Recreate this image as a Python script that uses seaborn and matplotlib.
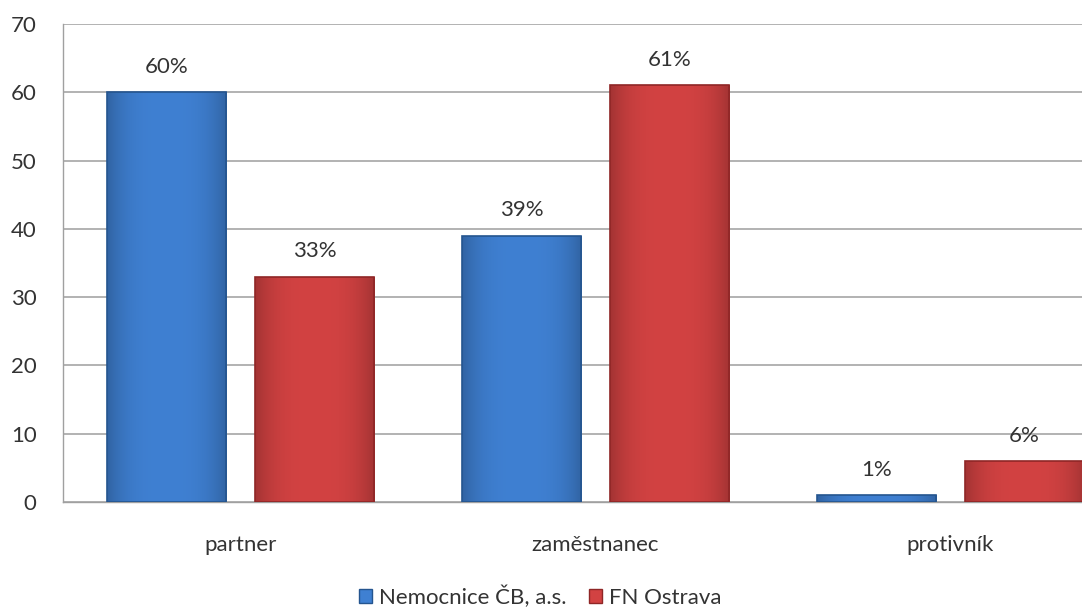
import matplotlib
matplotlib.use("Agg")
import matplotlib.pyplot as plt
import matplotlib.colors as mcolors
import numpy as np
import seaborn as sns
import pandas as pd
from matplotlib.patches import Patch

categories = ["partner", "zaměstnanec", "protivník"]
series_names = ["Nemocnice ČB, a.s.", "FN Ostrava"]
values_cb = [60, 39, 1]
values_ostrava = [33, 61, 6]
y_ticks = [0, 10, 20, 30, 40, 50, 60, 70]

df = pd.DataFrame({
    "kategorie": categories * 2,
    "nemocnice": [series_names[0]] * 3 + [series_names[1]] * 3,
    "hodnota": values_cb + values_ostrava,
})

sns.set_theme(style="white")
plt.rcParams["font.family"] = ["Lato", "DejaVu Sans"]
text_color = "#333333"
font_size = 16

face_colors = {series_names[0]: "#3f80d2", series_names[1]: "#d24242"}
edge_colors = {series_names[0]: "#24558f", series_names[1]: "#8f2626"}

fig = plt.figure(figsize=(10.82, 6.12), dpi=100)
ax = fig.add_axes([63 / 1082, 1 - 502 / 612, 1065 / 1082, 478 / 612])

sns.barplot(data=df, x="kategorie", y="hodnota", hue="nemocnice",
            palette=face_colors, width=0.834, gap=0.196, ax=ax,
            legend=False, saturation=1, zorder=3)


def shade_bar(bar, base):
    """Fill a bar with a soft horizontal gradient: darker sides, lighter middle."""
    x0, y0 = bar.get_x(), bar.get_y()
    w, h = bar.get_width(), bar.get_height()
    rgb = np.array(mcolors.to_rgb(base))
    t = np.linspace(-1, 1, 64)
    factor = 1.0 - 0.22 * np.abs(t) ** 3
    row = np.clip(rgb[None, :] * factor[:, None], 0, 1)
    img = np.repeat(row[None, :, :], 2, axis=0)
    im = ax.imshow(img, extent=(x0, x0 + w, y0, y0 + h), aspect="auto",
                   origin="lower", zorder=3.5, interpolation="bilinear")
    im.set_clip_path(bar)


for container, name in zip(ax.containers, series_names):
    for bar in container:
        shade_bar(bar, face_colors[name])
        bar.set_edgecolor(edge_colors[name])
        bar.set_linewidth(1.2)
        bar.set_zorder(4)
        bar.set_facecolor("none")
    ax.bar_label(container, labels=[f"{v:.0f}%" for v in container.datavalues],
                 padding=11, fontsize=font_size, color=text_color)

ax.set_xlim(-0.5, 2.5)
ax.set_ylim(0, 70)
ax.set_yticks(y_ticks)
ax.yaxis.grid(True, color="#a6a6a6", linewidth=1.2, zorder=0)
ax.set_axisbelow(True)
ax.set_xlabel("")
ax.set_ylabel("")
ax.tick_params(axis="both", length=0, labelsize=font_size, labelcolor=text_color)
ax.tick_params(axis="y", pad=19)
ax.tick_params(axis="x", pad=24)

for side in ["top", "right"]:
    ax.spines[side].set_visible(False)
for side in ["left", "bottom"]:
    ax.spines[side].set_color("#a0a0a0")
    ax.spines[side].set_linewidth(1.0)

handles = [Patch(facecolor=face_colors[n], edgecolor=edge_colors[n]) for n in series_names]
fig.legend(handles, series_names, loc="center", bbox_to_anchor=(540 / 1082, 1 - 597 / 612),
           ncol=2, frameon=False, fontsize=font_size, handlelength=0.6, handleheight=0.6,
           handletextpad=0.3, columnspacing=1.0, labelcolor=text_color)

fig.savefig("out.png", dpi=100)
